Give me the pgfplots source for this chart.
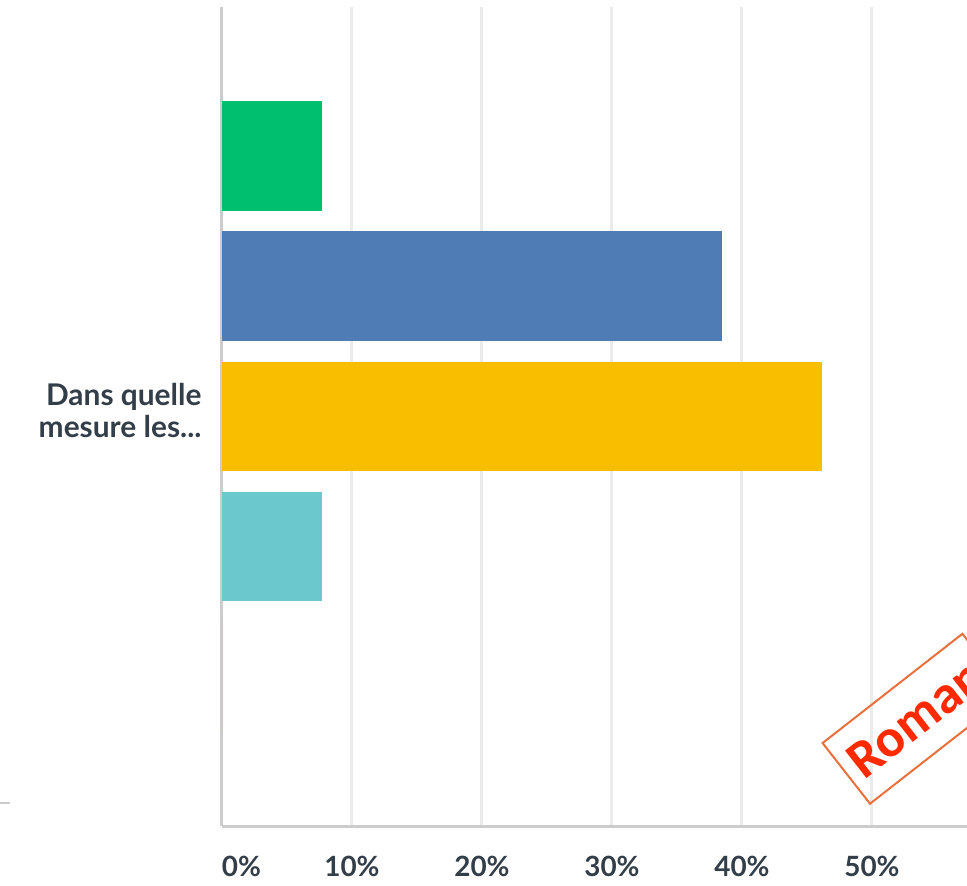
\documentclass[border=0pt]{standalone}
\usepackage{pgfplots}
\pgfplotsset{compat=1.18}
\usepackage{fontspec}
\setmainfont{Lato}
\newfontfamily\carlito{Carlito}
\definecolor{smgreen}{HTML}{00BF6F}
\definecolor{smblue}{HTML}{507CB6}
\definecolor{smyellow}{HTML}{F9BE00}
\definecolor{smteal}{HTML}{6BC8CD}
\definecolor{smorange}{HTML}{FF8B4F}
\definecolor{labtext}{HTML}{333E48}
\definecolor{gridc}{HTML}{EBEBEB}
\definecolor{axisc}{HTML}{CCCCCC}
\definecolor{stampb}{HTML}{E8703A}
\definecolor{stampt}{HTML}{FF2A00}
\newcommand{\ylab}{Dans quelle\\mesure les{.}{.}{.}}
\begin{document}
\begin{tikzpicture}[x=1bp,y=1bp]
\useasboundingbox (-222,-60) rectangle (745,826);
\begin{axis}[
 at={(0,0)}, anchor=south west,
 scale only axis, width=745bp, height=819bp,
 xmin=0, xmax=57.31, ymin=-3.15, ymax=3.15,
 axis x line*=bottom, axis y line*=left,
 axis line style={draw=axisc, line width=3bp, -},
 xtick={0,10,20,30,40,50},
 xticklabels={\makebox[0pt][l]{0\%},10\%,20\%,30\%,40\%,50\%},
 ytick={0}, yticklabels={\ylab},
 major tick length=0pt,
 xmajorgrids, major grid style={draw=gridc, line width=3bp},
 xticklabel style={anchor=north, yshift=-27bp, font=\fontsize{28}{32}\selectfont\bfseries, text=labtext},
 yticklabel style={align=right, xshift=-17bp, yshift=6bp, font=\fontsize{30}{32}\selectfont\bfseries, text=labtext},
 bar width=0.846,
]
\addplot[xbar, bar shift=0pt, fill=smgreen, draw=none] coordinates {(7.69,2)};
\addplot[xbar, bar shift=0pt, fill=smblue, draw=none] coordinates {(38.46,1)};
\addplot[xbar, bar shift=0pt, fill=smyellow, draw=none] coordinates {(46.15,0)};
\addplot[xbar, bar shift=0pt, fill=smteal, draw=none] coordinates {(7.69,-1)};
\addplot[xbar, bar shift=0pt, fill=smorange, draw=none] coordinates {(0,-2)};
\end{axis}
\draw[draw=axisc, line width=2.5bp] (-222,23) -- (-212,23);
\node[draw=stampb, line width=2bp, rotate=38, anchor=west, minimum height=77bp,
  inner xsep=10bp, text=stampt, font=\carlito\fontsize{54}{54}\selectfont\bfseries]
  at (623.5,52) {Roman};
\end{tikzpicture}
\end{document}
